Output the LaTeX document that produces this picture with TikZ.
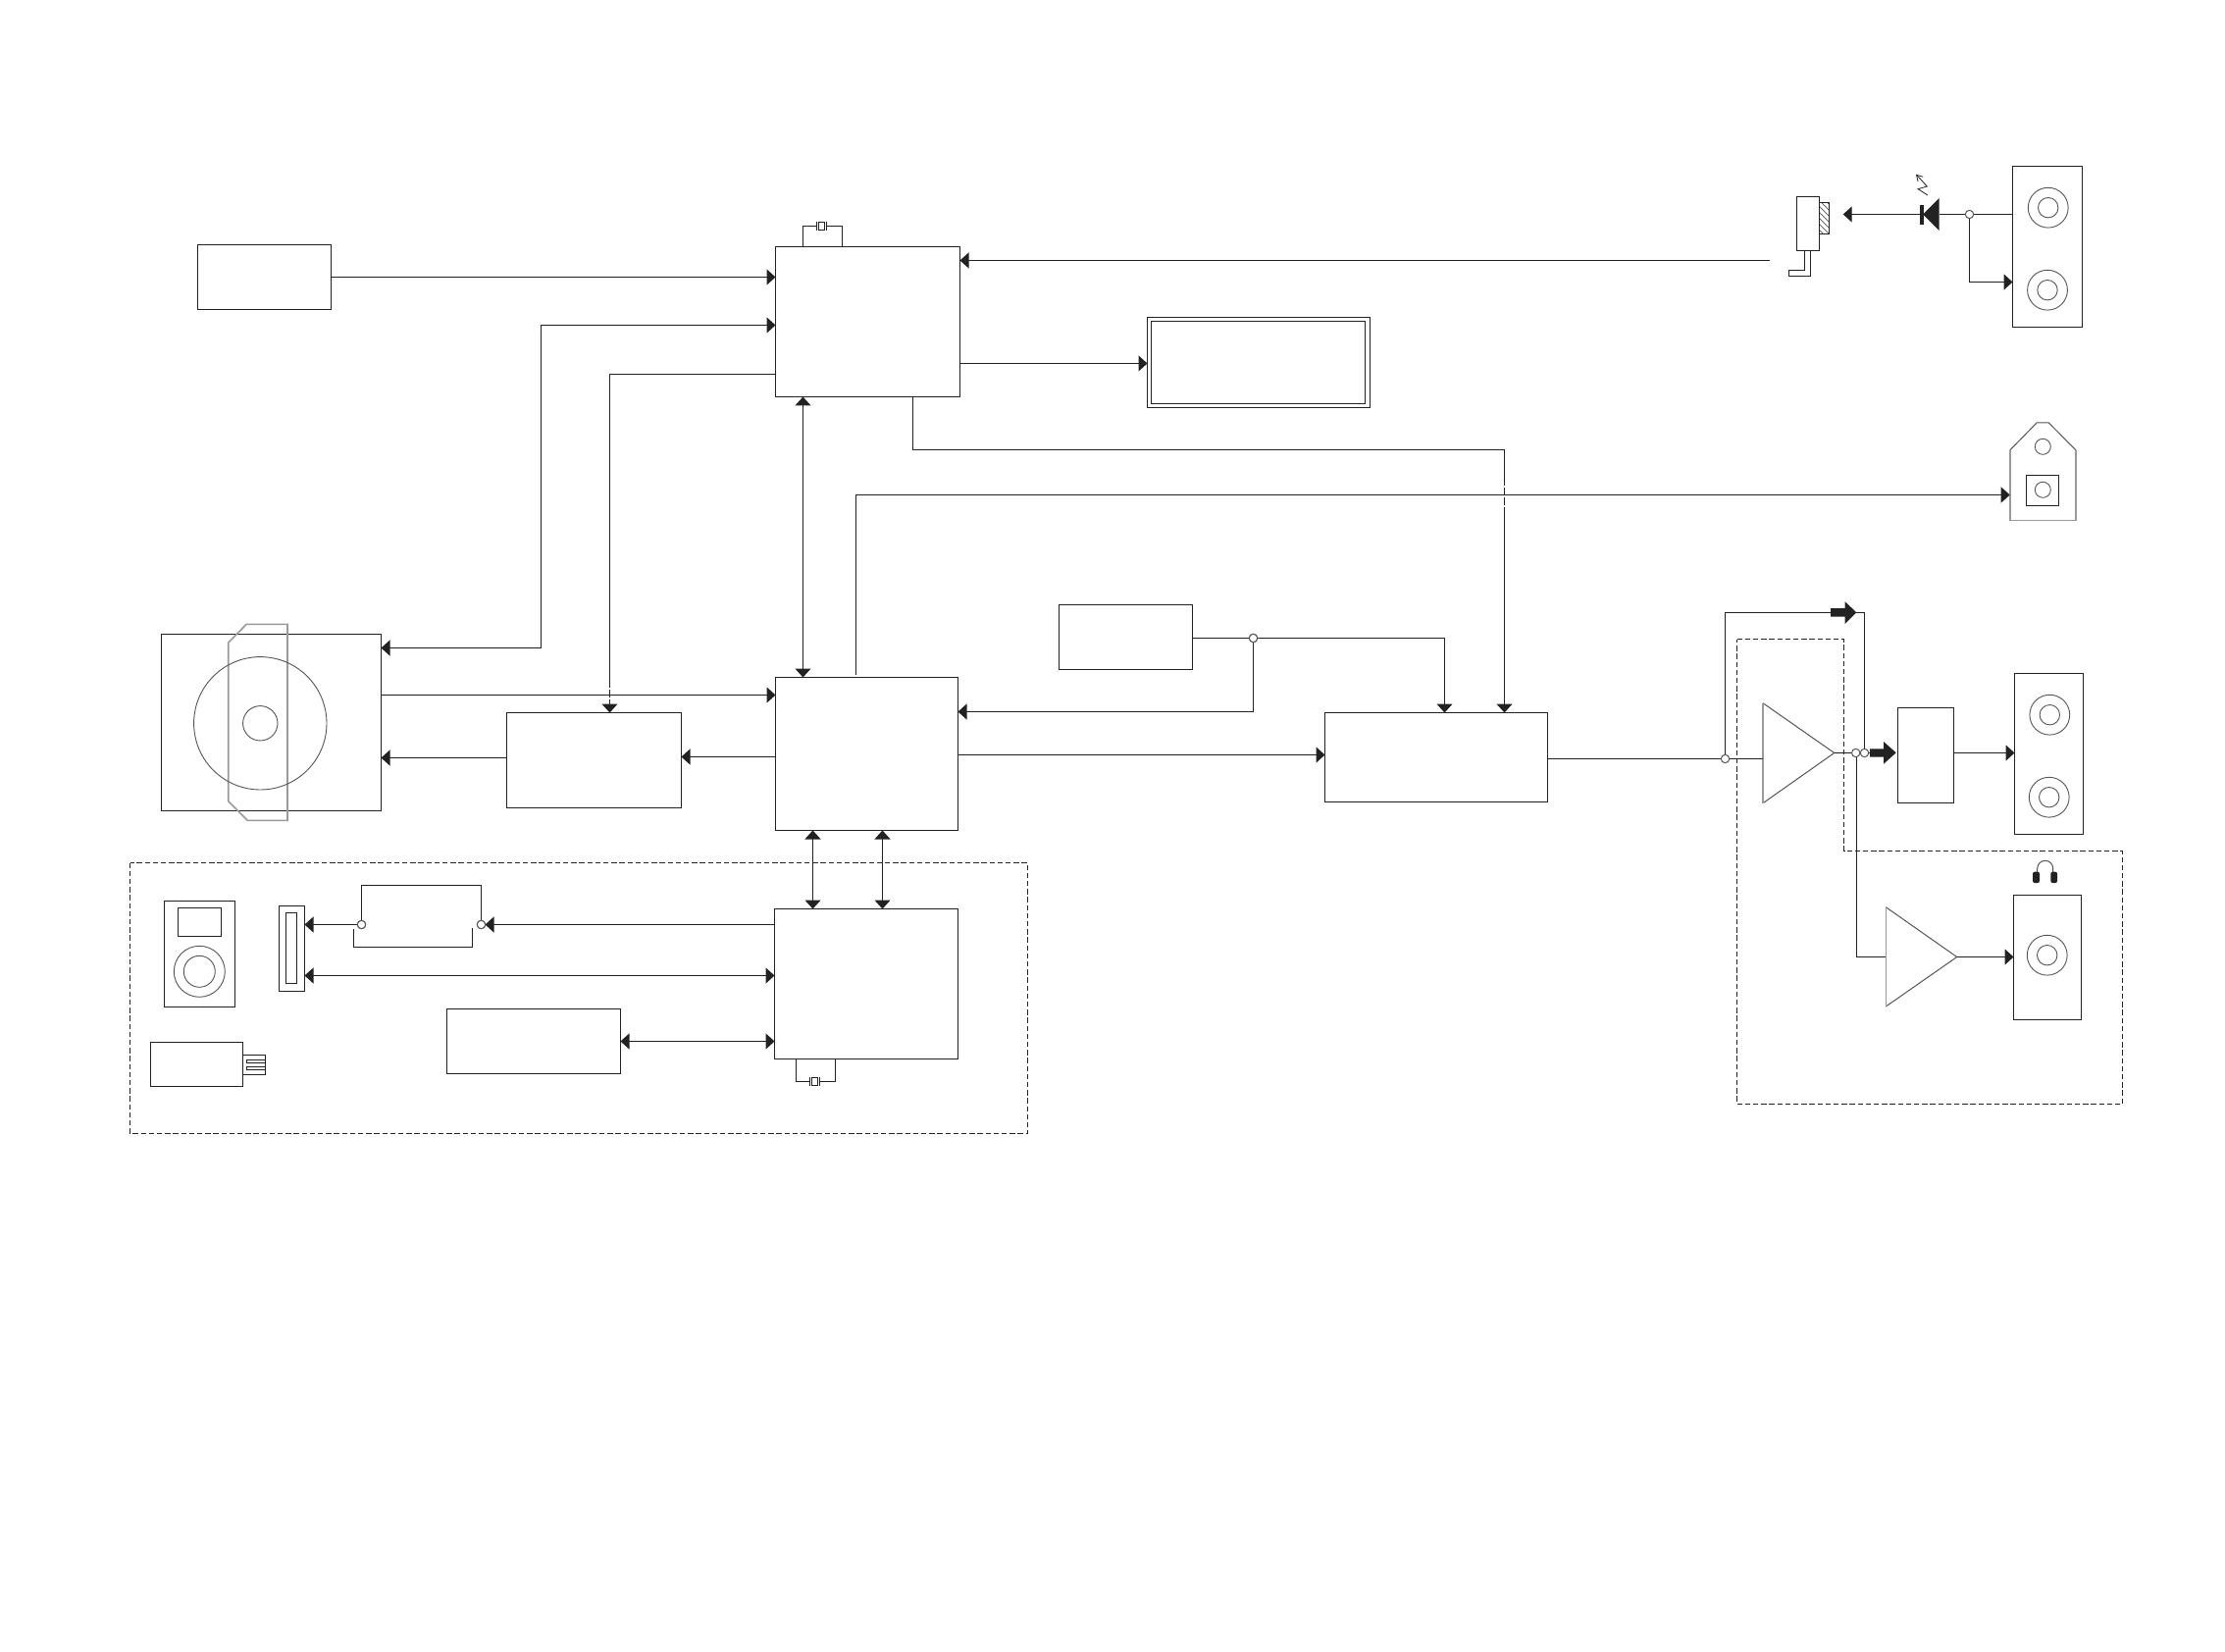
\documentclass[tikz,border=0pt]{standalone}
\usetikzlibrary{arrows.meta}
\definecolor{ink}{HTML}{222222}
\definecolor{soft}{HTML}{555555}
\definecolor{pale}{HTML}{9A9A9A}
\tikzset{
  tip/.tip={Triangle[length=4.5pt,width=8pt]},
  blk/.style={draw=ink,line width=.62pt,rectangle,inner sep=0pt,outer sep=0pt,fill=white},
  blknf/.style={draw=ink,line width=.62pt,rectangle,inner sep=0pt,outer sep=0pt},
  wire/.style={draw=ink,line width=.62pt},
  arr/.style={wire,-{tip}},
  darr/.style={wire,{tip}-{tip}},
  outline/.style={draw=soft,line width=.5pt},
  paleline/.style={draw=pale,line width=.8pt},
  ringnode/.style={circle,draw=soft,line width=.45pt,inner sep=0pt,outer sep=0pt},
  junction/.style={circle,draw=soft,fill=white,line width=.5pt,inner sep=0pt,outer sep=0pt,minimum size=4.2pt},
  group/.style={draw=ink,line width=.55pt,dash pattern=on 2.7pt off 1.4pt},
  brk/.style={wire,dash pattern=on 4pt off 1pt},
  bigarrow/.style={fill=ink,draw=none}
}
\newcommand\pxbox[6][blk]{%
  \pgfmathsetmacro\pxw{((#5)-(#3))*0.5}\pgfmathsetmacro\pxh{((#6)-(#4))*0.5}%
  \pgfmathsetmacro\pxcx{((#5)+(#3))/2}\pgfmathsetmacro\pxcy{((#6)+(#4))/2}%
  \node[#1,minimum width=\pxw pt,minimum height=\pxh pt] (#2) at (\pxcx,\pxcy) {};}
\newcommand\pxring[4]{%
  \pgfmathsetmacro\pxd{#4}%
  \node[ringnode,minimum size=\pxd pt] (#1) at (#2,#3) {};}
\newcommand\spkcone[3]{\pxring{#1o}{#2}{#3}{20.4}\pxring{#1i}{#2}{#3}{10.2}}
\newcommand\xtal[3]{%
  \draw[wire] ({#2-5.2},{#3-4.6}) -- ({#2-5.2},{#3+4.6}) ({#2+5.2},{#3-4.6}) -- ({#2+5.2},{#3+4.6});
  \pxbox[blknf]{#1}{#2-3}{#3-4}{#2+3}{#3+4}}
\begin{document}
\begin{tikzpicture}[x=0.5pt,y=-0.5pt]
\useasboundingbox (0,0) rectangle (2268,1684);
\fill[white] (0,0) rectangle (2268,1684);

% dashed groups
\draw[group] (132.5,879.5) rectangle (1047.5,1155.5);
\draw[group] (1770.5,651.5) -- (1879.5,651.5) -- (1879.5,867.5) -- (2163.5,867.5) -- (2163.5,1125.5) -- (1770.5,1125.5) -- cycle;

% optical pickup body (behind the drive outline)
\pxbox[blknf]{cd}{164.5}{646.5}{388.5}{826.5}
\draw[paleline] (232.7,655) -- (251.3,636.3) -- (293,636.3) -- (293,836.3) -- (252.3,836.3) -- (232.7,816.7) -- cycle;
\pxring{disco}{265.3}{737.3}{67.7}
\pxring{disci}{265.3}{737.3}{17.7}

% blocks
\pxbox{power}{201.5}{249.5}{337.5}{315.5}
\pxbox{top}{790.5}{251.5}{978.5}{404.5}
\pxbox{dispo}{1169.5}{323.5}{1396.5}{415.5}
\pxbox{dispi}{1173.5}{327.5}{1391.5}{411.5}
\pxbox{servo}{516.5}{726.5}{694.5}{823.5}
\pxbox{mid}{790.5}{690.5}{976.5}{846.5}
\pxbox{bot}{789.5}{926.5}{976.5}{1079.5}
\pxbox{mem}{455.5}{1028.5}{632.5}{1094.5}
\pxbox{aux}{1079.5}{616.5}{1215.5}{682.5}
\pxbox{dac}{1350.5}{726.5}{1577.5}{817.5}
\pxbox{filt}{1934.5}{721.5}{1991.5}{818.5}

% crystals
\draw[wire] (top.north -| 818.5,0) |- (832.3,230.5) (842.7,230.5) -| (top.north -| 858.5,0);
\xtal{xtaltop}{837.5}{230.5}
\draw[wire] (bot.south -| 811.5,0) |- (825.3,1102.5) (835.7,1102.5) -| (bot.south -| 851.5,0);
\xtal{xtalbot}{830.5}{1102.5}

% output devices
\pxbox{spka}{2051.5}{169.5}{2122.5}{333.5}
\spkcone{spkaA}{2087.7}{211.7}
\spkcone{spkaB}{2087}{295.7}
\pxbox{spkb}{2053.5}{686.5}{2123.5}{850.5}
\spkcone{spkbA}{2089.3}{728.7}
\spkcone{spkbB}{2088.7}{812.7}
\pxbox{spkc}{2052.5}{912.5}{2121.5}{1039.5}
\spkcone{spkcA}{2086.7}{973.7}

% tag-shaped jack
\draw[outline] (2048.7,459) -- (2076,431) -- (2088.3,431) -- (2116,459);
\draw[paleline] (2116,459) -- (2116,530.5) -- (2048.7,530.5) -- (2048.7,459);
\coordinate (tagin) at (2048.7,504.5);
\pxring{tagtop}{2082.3}{455.3}{8}
\pxbox{tagsq}{2065.5}{484.5}{2098.5}{515.5}
\pxring{tagc}{2082.3}{499.3}{8}

% IR receiver
\pxbox{irbody}{1831.5}{200.5}{1854.5}{255.5}
\begin{scope}
\clip (1854.5,206.5) rectangle (1864.5,238.5);
\foreach \h in {190,196,...,240}{\draw[soft,line width=.35pt] (1852,\h) -- (1868,\h+16);}
\end{scope}
\pxbox[blknf]{irlens}{1854.5}{206.5}{1864.5}{238.5}
\draw[wire] (1839.5,255.5) -- (1839.5,275.5) -- (1823.5,275.5) -- (1823.5,281.5) -- (1845.5,281.5) -- (1845.5,255.5);
\coordinate (irout) at (1804.3,265.5);

% connectors: top controller
\draw[arr] (power.east |- 0,282.5) -- (top.west |- 0,282.5);
\coordinate (ba) at (551.5,331.5);
\draw[darr] (cd.east |- 0,660.5) -| (ba) -- (top.west |- ba);
\draw[arr] (irout) -- (top.east |- irout);
\draw[arr] (top.east |- 0,370.5) -- (dispo.west |- 0,370.5);
\coordinate (bb) at (621.5,693);
\draw[wire] (top.west |- 0,381.5) -| (bb);
\draw[brk,-{tip}] (bb) -- (servo.north -| bb);
\draw[darr] (top.south -| 818.5,0) -- (mid.north -| 818.5,0);
\coordinate (bc) at (1533.5,458.5);
\coordinate (bc1) at (1533.5,486.7);
\coordinate (bc2) at (1533.5,520);
\draw[wire] (top.south -| 930.5,0) |- (bc) -- (bc1);
\draw[brk] (bc1) -- (bc2);
\draw[arr] (bc2) -- (dac.north -| bc2);
\coordinate (bd) at (872.5,504.5);
\coordinate (bd0) at (872.5,687.7);
\draw[arr] (bd0) -- (bd) -- (tagin);

% connectors: mid processor
\draw[arr] (cd.east |- 0,708.5) -- (mid.west |- 0,708.5);
\draw[arr] (servo.west |- 0,772.5) -- (cd.east |- 0,772.5);
\draw[arr] (mid.west |- 0,771.5) -- (servo.east |- 0,771.5);
\draw[arr] (mid.east |- 0,769.5) -- (dac.west |- 0,769.5);
\draw[darr] (mid.south -| 828.5,0) -- (bot.north -| 828.5,0);
\draw[darr] (mid.south -| 899.5,0) -- (bot.north -| 899.5,0);

% connectors: aux
\node[junction] (jaux) at (1277.5,650.5) {};
\coordinate (be) at (1472.5,650.5);
\draw[arr] (aux.east |- be) -- (be) -- (dac.north -| be);
\coordinate (bf) at (1277.5,725.5);
\draw[arr] (jaux) -- (bf) -- (mid.east |- bf);
\node[junction] at (jaux) {};

% portable devices
\pxbox{ipod}{167.5}{918.5}{239.5}{1026.5}
\pxbox{ipodscr}{181.5}{925.5}{225.5}{954.5}
\pxring{wheelo}{203.3}{990.3}{26}
\pxring{wheeli}{203.3}{990.3}{16}
\pxbox{port}{284.5}{923.5}{310.5}{1010.5}
\pxbox{porti}{291.5}{930.5}{302.5}{1002.5}
\pxbox{usb}{153.5}{1062.5}{247.5}{1107.5}
\pxbox{plug}{247.5}{1075.5}{270.5}{1095.5}
\pxbox{slota}{251.5}{1080.5}{270.5}{1083.5}
\pxbox{slotb}{251.5}{1087.5}{270.5}{1090.5}
\node[junction] (swa) at (368.5,942.5) {};
\node[junction] (swb) at (490.5,942.5) {};
\coordinate (swtopa) at (368.5,902.5);
\coordinate (swtopb) at (490.5,902.5);
\draw[wire] (swa) -- (swtopa) -- (swtopb) -- (swb);
\draw[wire] (360.5,947.3) -- (360.5,965.5) -- (481.5,965.5) -- (481.5,946);
\draw[arr] (swa) -- (port.east |- swa);
\coordinate (bg) at (494.5,942.5);
\draw[arr] (bot.west |- bg) -- (bg);
\draw[darr] (port.east |- 0,994.5) -- (bot.west |- 0,994.5);
\draw[darr] (mem.east |- 0,1061.5) -- (bot.west |- 0,1061.5);
\node[junction] at (swa) {};
\node[junction] at (swb) {};

% audio output stage
\coordinate (ampain) at (1797,773.5);
\coordinate (ampaout) at (1869.7,767.5);
\draw[outline] (1797,716.7) -- (ampaout) -- (1797,818.7);
\draw[paleline] (1797,716.7) -- (1797,818.7);
\coordinate (ampbin) at (1922.3,975.5);
\coordinate (ampbout) at (1994.7,975.5);
\draw[outline] (1922.3,924.7) -- (ampbout) -- (1922.3,1026);
\draw[paleline] (1922.3,924.7) -- (1922.3,1026);

\coordinate (jm) at (1758.5,773.5);
\coordinate (ft) at (1758.5,624.5);
\coordinate (fb) at (1900.5,624.5);
\coordinate (jb) at (1900.5,767.5);
\coordinate (jc) at (1891.7,767.5);
\draw[wire] (dac.east |- jm) -- (ampain);
\draw[wire] (jm) -- (ft) -- (fb) -- (jb);
\draw[wire] (ampaout) -- (1906,767.5);
\draw[wire] (1892.5,767.5) |- (ampbin);
\draw[arr] (ampbout) -- (spkc.west |- ampbout);
\draw[arr] (filt.east |- 0,767.5) -- (spkb.west |- 0,767.5);
\node[junction] at (jm) {};
\node[junction] at (jb) {};
\node[junction] at (jc) {};
\fill[bigarrow] (1866,620) -- (1880.7,620) -- (1880.7,613.3) -- (1892.3,624.3) -- (1880.7,636) -- (1880.7,628.6) -- (1866,628.6) -- cycle;
\fill[bigarrow] (1906,763.3) -- (1920,763.3) -- (1920,756) -- (1932.7,767.3) -- (1920,778.7) -- (1920,771.7) -- (1906,771.7) -- cycle;

% headphones
\draw[outline] (2076.7,889) -- (2076.7,885.3) arc (180:360:8) -- (2092.7,889);
\fill[ink,rounded corners=1pt] (2072,888.7) rectangle (2079,900);
\fill[ink,rounded corners=1pt] (2090.3,888.7) rectangle (2097,900);

% IR LED path
\coordinate (lj) at (2007.5,218.5);
\coordinate (lb) at (1958,218.5);
\coordinate (lt) at (1878.7,218.5);
\draw[wire] (spka.west |- lj) -- (1976.7,218.5);
\draw[arr] (lb) -- (lt);
\coordinate (lk) at (2007.5,287.5);
\draw[arr] (lj) -- (lk) -- (spka.west |- lk);
\node[junction] at (lj) {};
\fill[ink] (1976.7,202) -- (1976.7,235) -- (1960,218.5) -- cycle;
\fill[ink] (1957,209) rectangle (1961,229);
\draw[ink,line width=.4pt,-{Straight Barb[length=3pt,width=3.5pt]}] (1965,199) -- (1955,192.7) -- (1964.3,190) -- (1953,177.7);
\end{tikzpicture}
\end{document}
